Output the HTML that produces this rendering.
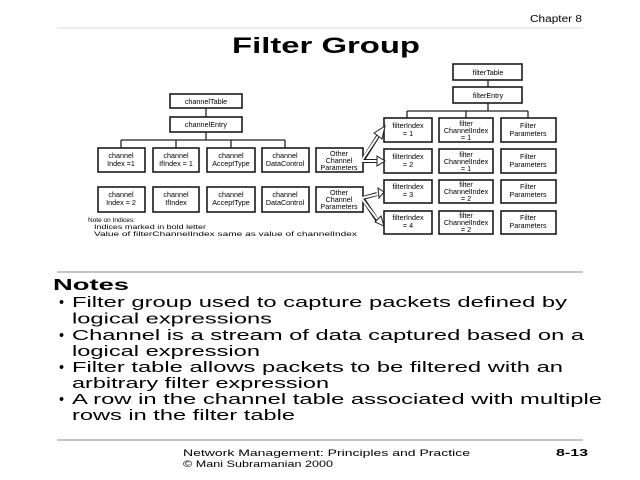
<!DOCTYPE html>
<html><head><meta charset="utf-8"><style>
html,body{margin:0;padding:0;background:#fff;width:640px;height:480px;overflow:hidden}
svg{display:block}
text{font-family:"Liberation Sans",Arial,sans-serif;fill:#000}
.b{fill:#fff;stroke:#1a1a1a;stroke-width:1.6}
.t{font-size:7.2px;text-anchor:middle}
.l{stroke:#222;stroke-width:1.3;fill:none}
</style></head><body>
<svg width="640" height="480" viewBox="0 0 640 480">
<text x="530" y="22" font-size="10" textLength="52" lengthAdjust="spacingAndGlyphs">Chapter 8</text>
<line x1="57" y1="28" x2="583" y2="28" stroke="#ddd" stroke-width="1"/>
<text x="232" y="53" font-size="22" font-weight="bold" textLength="188" lengthAdjust="spacingAndGlyphs">Filter Group</text>

<!-- left tree -->
<rect class="b" x="170" y="94" width="72" height="14"/><text class="t" x="206" y="104">channelTable</text>
<line class="l" x1="206" y1="108" x2="206" y2="117"/>
<rect class="b" x="170" y="117" width="72" height="15"/><text class="t" x="206" y="127">channelEntry</text>
<polyline class="l" points="206,132 206,140"/>
<line class="l" x1="121" y1="140" x2="285" y2="140"/>
<line class="l" x1="121" y1="140" x2="121" y2="148"/>
<line class="l" x1="176" y1="140" x2="176" y2="148"/>
<line class="l" x1="231" y1="140" x2="231" y2="148"/>
<line class="l" x1="285" y1="140" x2="285" y2="148"/>

<rect class="b" x="98" y="148" width="47" height="24"/><text class="t" x="121" y="158">channel</text><text class="t" x="121" y="166">Index =1</text>
<rect class="b" x="153" y="148" width="46" height="24"/><text class="t" x="176" y="158">channel</text><text class="t" x="176" y="166">IfIndex = 1</text>
<rect class="b" x="207" y="148" width="48" height="24"/><text class="t" x="231" y="158">channel</text><text class="t" x="231" y="166">AcceptType</text>
<rect class="b" x="262" y="148" width="47" height="24"/><text class="t" x="285" y="158">channel</text><text class="t" x="285" y="166">DataControl</text>
<rect class="b" x="316" y="148" width="47" height="24"/><text class="t" x="339" y="156">Other</text><text class="t" x="339" y="163">Channel</text><text class="t" x="339" y="170">Parameters</text>

<rect class="b" x="98" y="187" width="47" height="25"/><text class="t" x="121" y="197">channel</text><text class="t" x="121" y="205">Index = 2</text>
<rect class="b" x="153" y="187" width="46" height="25"/><text class="t" x="176" y="197">channel</text><text class="t" x="176" y="205">IfIndex</text>
<rect class="b" x="207" y="187" width="48" height="25"/><text class="t" x="231" y="197">channel</text><text class="t" x="231" y="205">AcceptType</text>
<rect class="b" x="262" y="187" width="47" height="25"/><text class="t" x="285" y="197">channel</text><text class="t" x="285" y="205">DataControl</text>
<rect class="b" x="316" y="187" width="47" height="25"/><text class="t" x="339" y="195">Other</text><text class="t" x="339" y="202">Channel</text><text class="t" x="339" y="209">Parameters</text>

<text x="88" y="222" font-size="6.5">Note on Indices:</text>
<text x="94" y="229" font-size="6.5" textLength="112" lengthAdjust="spacingAndGlyphs">Indices marked in bold letter</text>
<text x="94" y="236" font-size="6.5" textLength="263" lengthAdjust="spacingAndGlyphs">Value of filterChannelIndex same as value of channelIndex</text>

<!-- right tree -->
<rect class="b" x="453" y="64" width="69" height="16"/><text class="t" x="488" y="75">filterTable</text>
<line class="l" x1="488" y1="80" x2="488" y2="87"/>
<rect class="b" x="453" y="87" width="69" height="16"/><text class="t" x="488" y="98">filterEntry</text>
<line class="l" x1="488" y1="103" x2="488" y2="111"/>
<line class="l" x1="407" y1="111" x2="528" y2="111"/>
<line class="l" x1="407" y1="111" x2="407" y2="118"/>
<line class="l" x1="466" y1="111" x2="466" y2="118"/>
<line class="l" x1="528" y1="111" x2="528" y2="118"/>

<rect class="b" x="384" y="118" width="48" height="24"/><text class="t" x="408" y="128">filterIndex</text><text class="t" x="408" y="136">= 1</text>
<rect class="b" x="439" y="118" width="54" height="24"/><text class="t" x="466" y="126">filter</text><text class="t" x="466" y="133">ChannelIndex</text><text class="t" x="466" y="140">= 1</text>
<rect class="b" x="501" y="118" width="55" height="24"/><text class="t" x="528" y="128">Filter</text><text class="t" x="528" y="136">Parameters</text>

<rect class="b" x="384" y="149" width="48" height="24"/><text class="t" x="408" y="159">filterIndex</text><text class="t" x="408" y="167">= 2</text>
<rect class="b" x="439" y="149" width="54" height="24"/><text class="t" x="466" y="157">filter</text><text class="t" x="466" y="164">ChannelIndex</text><text class="t" x="466" y="171">= 1</text>
<rect class="b" x="501" y="149" width="55" height="24"/><text class="t" x="528" y="159">Filter</text><text class="t" x="528" y="167">Parameters</text>

<rect class="b" x="384" y="180" width="48" height="23"/><text class="t" x="408" y="189">filterIndex</text><text class="t" x="408" y="197">= 3</text>
<rect class="b" x="439" y="180" width="54" height="23"/><text class="t" x="466" y="187">filter</text><text class="t" x="466" y="194">ChannelIndex</text><text class="t" x="466" y="201">= 2</text>
<rect class="b" x="501" y="180" width="55" height="23"/><text class="t" x="528" y="189">Filter</text><text class="t" x="528" y="197">Parameters</text>

<rect class="b" x="384" y="211" width="48" height="23"/><text class="t" x="408" y="220">filterIndex</text><text class="t" x="408" y="228">= 4</text>
<rect class="b" x="439" y="211" width="54" height="23"/><text class="t" x="466" y="218">filter</text><text class="t" x="466" y="225">ChannelIndex</text><text class="t" x="466" y="232">= 2</text>
<rect class="b" x="501" y="211" width="55" height="23"/><text class="t" x="528" y="220">Filter</text><text class="t" x="528" y="228">Parameters</text>

<!-- hollow double arrows -->
<g stroke-linejoin="miter">
<g stroke="#222" stroke-width="4" fill="none">
<line x1="363" y1="160" x2="378" y2="136"/>
<line x1="363" y1="161" x2="377" y2="161"/>
<line x1="363" y1="198" x2="377" y2="194"/>
<line x1="363" y1="199" x2="377" y2="220"/>
</g>
<g stroke="#fff" stroke-width="2" fill="none">
<line x1="362" y1="160" x2="378" y2="136"/>
<line x1="362" y1="161" x2="378" y2="161"/>
<line x1="362" y1="198" x2="378" y2="194"/>
<line x1="362" y1="199" x2="378" y2="220"/>
</g>
<g fill="#fff" stroke="#222" stroke-width="1">
<polygon points="385,126 382,139 374,133"/>
<polygon points="385,161 377,156 377,166"/>
<polygon points="384,192 378,188 379,198"/>
<polygon points="384,226 375,222 381,216"/>
</g>
</g>

<!-- notes -->
<line x1="57" y1="272" x2="583" y2="272" stroke="#888" stroke-width="1"/>
<text x="53" y="290" font-size="16" font-weight="bold" textLength="76" lengthAdjust="spacingAndGlyphs">Notes</text>
<g font-size="14.5">
<text x="59" y="307">•</text><text x="72" y="307" textLength="495" lengthAdjust="spacingAndGlyphs">Filter group used to capture packets defined by</text>
<text x="72" y="323.5" textLength="200" lengthAdjust="spacingAndGlyphs">logical expressions</text>
<text x="59" y="340">•</text><text x="72" y="340" textLength="512" lengthAdjust="spacingAndGlyphs">Channel is a stream of data captured based on a</text>
<text x="72" y="356" textLength="188" lengthAdjust="spacingAndGlyphs">logical expression</text>
<text x="59" y="372">•</text><text x="72" y="372" textLength="491" lengthAdjust="spacingAndGlyphs">Filter table allows packets to be filtered with an</text>
<text x="72" y="388" textLength="257" lengthAdjust="spacingAndGlyphs">arbitrary filter expression</text>
<text x="59" y="404">•</text><text x="72" y="404" textLength="530" lengthAdjust="spacingAndGlyphs">A row in the channel table associated with multiple</text>
<text x="72" y="420" textLength="223" lengthAdjust="spacingAndGlyphs">rows in the filter table</text>
</g>
<line x1="57" y1="440" x2="583" y2="440" stroke="#888" stroke-width="1"/>
<text x="183" y="456" font-size="9.5" textLength="287" lengthAdjust="spacingAndGlyphs">Network Management: Principles and Practice</text>
<text x="183" y="467" font-size="9.5" textLength="150" lengthAdjust="spacingAndGlyphs">© Mani Subramanian 2000</text>
<text x="556" y="456" font-size="10" font-weight="bold" textLength="32" lengthAdjust="spacingAndGlyphs">8-13</text>
</svg>
</body></html>
